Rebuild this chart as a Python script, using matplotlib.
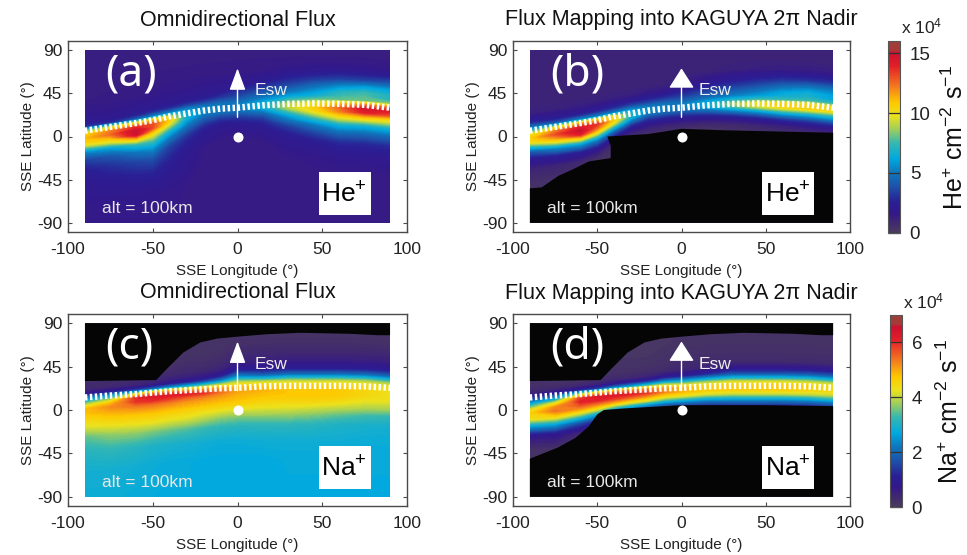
import numpy as np
import matplotlib
matplotlib.use("Agg")
import matplotlib.pyplot as plt
from matplotlib.colors import LinearSegmentedColormap, Normalize
from matplotlib.cm import ScalarMappable
from matplotlib.patches import Rectangle

plt.rcParams['font.family'] = ['Liberation Sans', 'DejaVu Sans']
plt.rcParams['mathtext.fontset'] = 'custom'
plt.rcParams['mathtext.rm'] = 'Liberation Sans'
plt.rcParams['mathtext.default'] = 'rm'
plt.rcParams['axes.unicode_minus'] = False

W, H = 967, 555

lon_knots = [-90, -75, -60, -50, -40, -30, -20, -10, 0, 15, 30, 45, 60, 75, 90]
# latitude offsets from the hatched line at which each flux profile is read
lat_offsets = [100, 60, 45, 35, 25, 18, 12, 8, 4, 0, -4, -8, -12, -16, -22, -30, -40, -55, -75, -125]

hatch_he = [6, 10, 14, 17, 21, 24, 27, 29, 30, 32.5, 34, 34.5, 34, 33, 30]
hatch_na = [13, 15, 16.5, 18, 19.5, 20.5, 21.5, 22.5, 23, 24.5, 25, 25, 25, 24.5, 23]

he_omni = [
    [1.3,1.3,1.3,1.3,1.5,1.6,1.8,2.2,3,8,10.5,11,10.5,9,5.5,3.5,2.5,2,1.6,1.4],
    [1.3,1.3,1.3,1.4,1.5,1.6,1.8,2,3,9,12,12.5,11,9.5,6,4,3,2.2,1.7,1.4],
    [1.3,1.3,1.3,1.4,1.5,1.7,2,2.5,4,10,13.5,15,15,11.5,7.5,5,3.5,2.5,1.7,1.4],
    [1.3,1.3,1.4,1.4,1.6,1.8,2.2,3,5,11,13,13,11,9.5,7.5,5.5,3.8,2.6,1.7,1.4],
    [1.3,1.3,1.4,1.5,1.6,1.8,2.2,3,5,9,10.5,9.5,8,6.5,5,3.5,2.8,2.2,1.6,1.4],
    [1.3,1.3,1.4,1.5,1.6,1.9,2.4,3.5,5.5,6.5,6.5,5.8,5,4.2,3.2,2.5,2,1.8,1.5,1.4],
    [1.3,1.3,1.4,1.5,1.7,2,2.5,3.5,5,5.5,5,4.2,3.5,2.8,2.2,1.8,1.5,1.4,1.4,1.4],
    [1.3,1.3,1.4,1.5,1.7,2,3,4,5,5.2,4.6,3.6,2.8,2.2,1.8,1.5,1.4,1.4,1.4,1.4],
    [1.3,1.3,1.4,1.5,1.8,2.8,3.5,4.2,5,5,4.4,3.5,2.8,2.2,1.7,1.4,1.4,1.4,1.4,1.4],
    [1.3,1.3,1.4,1.5,2.2,3.2,4.2,5,6,6.5,5.8,4.5,3.5,2.8,2.2,1.7,1.4,1.4,1.4,1.4],
    [1.3,1.3,1.4,1.7,2.8,3.8,5,6,7.5,9,9,7.5,6,5,3.5,2.5,1.8,1.5,1.4,1.4],
    [1.3,1.3,1.4,1.8,3.2,4.6,5.8,6.5,8,10,10.5,10,8.5,7,5,3.5,2.2,1.6,1.4,1.4],
    [1.3,1.3,1.4,1.9,3.5,5.5,7,7.5,8,11,12.5,12,10.5,9,6.5,4.5,2.8,1.8,1.4,1.4],
    [1.3,1.3,1.4,1.8,3.5,6,7.5,7.8,8,12,14.5,14,11.5,9.5,6.5,4.5,2.8,1.8,1.4,1.4],
    [1.3,1.3,1.4,1.8,4,6,7,7,8.5,12.5,14,13,10.5,9,6.5,4.5,2.8,1.8,1.4,1.4],
]
he_nadir = [
    [1.1,1.1,1.1,1.1,1.1,1.2,2,2.8,4.5,7,9.5,10.5,10,7.5,4,2,1,.4,.3,.3],
    [1.1,1.1,1.1,1.1,1.1,1.2,1.8,2.5,4,9,12,13,11.5,9.5,5.5,2.5,1,.4,.3,.3],
    [1.1,1.1,1.1,1.1,1.1,1.3,1.8,2.8,5,11,14,15,14,10.5,6,2.5,.8,.3,.3,.3],
    [1.1,1.1,1.1,1.1,1.1,1.3,2,3,5,11,13.5,12.5,10.5,8,4.5,1.8,.4,.3,.3,.3],
    [1.1,1.1,1.1,1.1,1.1,1.3,2.2,3,5,10,10.5,9,6.5,4.2,2,.6,.3,.3,.3,.3],
    [1.1,1.1,1.1,1.1,1.1,1.3,2.4,3.5,5.5,7,6.5,4.8,3,1.8,.8,.4,.3,.3,.3,.3],
    [1.1,1.1,1.1,1.1,1.1,1.5,2.5,3.5,5,5.5,4.6,3.2,2.2,1.4,.7,.4,.3,.3,.3,.3],
    [1.1,1.1,1.1,1.1,1.1,1.6,2.8,3.8,5,5.2,4.3,3,2,1.2,.6,.3,.3,.3,.3,.3],
    [1.1,1.1,1.1,1.1,1.4,2.2,3.2,4,5,5,4,2.8,1.8,1.1,.5,.3,.3,.3,.3,.3],
    [1.1,1.1,1.1,1.1,1.8,2.8,3.8,4.6,6,6.3,5,3.4,2,1.2,.5,.3,.3,.3,.3,.3],
    [1.1,1.1,1.1,1.2,2.2,3.3,4.4,5.2,7,8.5,7,4.6,2.8,1.6,.7,.3,.3,.3,.3,.3],
    [1.1,1.1,1.1,1.3,2.6,3.8,5,5.8,7.5,10,9,6,3.8,2.2,1,.4,.3,.3,.3,.3],
    [1.1,1.1,1.1,1.4,3,4.6,6,6.5,7.5,10.5,10,7.5,5,3,1.3,.5,.3,.3,.3,.3],
    [1.1,1.1,1.1,1.4,3,5,6.5,6.8,7.5,10.5,10.5,8,5.5,3.5,1.6,.6,.3,.3,.3,.3],
    [1.1,1.1,1.1,1.4,3.2,5,6,6,7.5,10,10,7.5,5.5,3.5,1.6,.6,.3,.3,.3,.3],
]
na_omni = [
    [.1,.1,.12,.15,.2,.25,.3,.35,.7,2,3,4,4.8,4.8,4.5,4.2,3.5,3.1,2.9,2.75],
    [.1,.1,.12,.15,.2,.25,.3,.4,.9,2.5,3.8,4.8,5.2,5,4.7,4.3,3.7,3.2,2.9,2.75],
    [.1,.1,.12,.15,.2,.25,.35,.5,1.5,4.2,6,5.9,5.4,5.1,4.7,4.3,3.7,3.1,2.85,2.7],
    [.1,.1,.12,.15,.2,.3,.4,.6,1.8,5,6.2,6,5.4,5.1,4.7,4.3,3.6,3,2.8,2.7],
    [.1,.1,.12,.15,.2,.3,.5,.8,2.3,5.1,6.2,5.8,5.3,5,4.6,4.2,3.5,2.95,2.75,2.7],
    [.1,.1,.12,.15,.25,.35,.6,1.1,2.8,5,6.1,5.5,5.1,4.9,4.5,4.1,3.4,2.9,2.75,2.7],
    [.1,.1,.12,.15,.25,.4,.7,1.5,3.3,5.1,5.9,5.3,5,4.8,4.4,3.9,3.25,2.85,2.7,2.7],
    [.1,.1,.12,.2,.3,.5,1.1,2.2,3.8,5.1,5.4,5.1,4.9,4.7,4.3,3.7,3.15,2.8,2.7,2.7],
    [.1,.1,.2,.35,.6,1.1,2.3,3.4,4.3,4.9,5,4.9,4.8,4.6,4.2,3.6,3.1,2.8,2.7,2.7],
    [.1,.1,.2,.35,.5,.9,1.8,3,4.2,4.7,4.9,4.8,4.7,4.5,4.2,3.7,3.15,2.85,2.7,2.7],
    [.1,.1,.2,.35,.6,1,2,3.2,4.2,4.6,4.75,4.75,4.65,4.5,4.2,3.7,3.15,2.85,2.75,2.7],
    [.1,.1,.2,.35,.6,1,2,3.2,4.2,4.6,4.75,4.75,4.65,4.5,4.1,3.6,3.1,2.85,2.75,2.7],
    [.1,.1,.2,.35,.6,1,2,3.2,4.2,4.55,4.7,4.7,4.6,4.4,4,3.45,3,2.85,2.75,2.7],
    [.1,.1,.2,.35,.6,1,2,3.2,4.1,4.4,4.5,4.5,4.4,4.2,3.9,3.3,2.95,2.8,2.75,2.7],
    [.1,.1,.2,.35,.6,1,1.9,3,3.9,4.2,4.3,4.3,4.3,4.1,3.8,3.2,2.9,2.8,2.75,2.7],
]
na_nadir = [
    [.1,.1,.1,.1,.1,.15,.2,.25,.4,1,2,3,3.9,4.6,4.4,2.6,.7,.15,.1,.1],
    [.1,.1,.1,.1,.1,.15,.2,.3,.6,1.6,2.8,4.2,5.2,5.4,4.5,2.6,.8,.15,.1,.1],
    [.1,.1,.1,.1,.1,.15,.2,.4,1.2,3.8,5.8,6.1,5.6,5,3.6,1.6,.4,.1,.1,.1],
    [.1,.1,.1,.1,.1,.15,.3,.5,1.4,4.5,6.2,6.1,5.3,4.5,2.8,1.1,.2,.1,.1,.1],
    [.1,.1,.1,.1,.15,.2,.35,.7,2,5,6.2,5.8,4.9,3.6,1.5,.5,.1,.1,.1,.1],
    [.1,.1,.1,.1,.15,.2,.4,1,2.6,5.2,6.1,5.4,4.4,3,1.2,.3,.1,.1,.1,.1],
    [.1,.1,.1,.1,.15,.25,.5,1.3,3.2,5.3,5.8,5,4,2.5,.9,.2,.1,.1,.1,.1],
    [.1,.1,.1,.15,.2,.3,.8,2,3.8,5.1,5.2,4.5,3.4,2.1,.7,.2,.1,.1,.1,.1],
    [.1,.1,.15,.2,.3,.4,1,2.3,3.8,4.9,4.9,4.3,3.1,1.9,.6,.2,.1,.1,.1,.1],
    [.1,.1,.15,.2,.3,.5,1.3,2.6,3.9,4.6,4.6,4.1,3,1.9,.7,.2,.1,.1,.1,.1],
    [.1,.1,.15,.2,.3,.8,1.8,3,4.2,4.7,4.6,4,3,2,.8,.2,.1,.1,.1,.1],
    [.1,.1,.15,.2,.3,.8,1.8,3,4.2,4.7,4.6,4,3,2,.8,.2,.1,.1,.1,.1],
    [.1,.1,.15,.2,.3,.8,1.8,3,4.2,4.7,4.6,4,3,2,.8,.2,.1,.1,.1,.1],
    [.1,.1,.15,.2,.3,.8,1.8,3,4.1,4.6,4.5,4,3,2,.8,.2,.1,.1,.1,.1],
    [.1,.1,.15,.2,.3,.8,1.8,2.9,4,4.4,4.4,3.9,3,2,.8,.2,.1,.1,.1,.1],
]

# outlines of the black no-coverage regions
mask_b_lon = [-90, -83, -73, -63, -55, -42, -42, -44, -20, 0, 25, 50, 75, 90]
mask_b_lat = [-54, -53, -41, -33, -26, -22.5, -10, 0, 2.5, 8, 6.5, 5.5, 4.5, 4]
mask_top_lon = [-90, -48, -42, -32, -22, -12, 0, 17, 37, 66, 83, 90]
mask_top_lat = [30, 31, 42, 59.5, 70, 74, 76, 78.5, 80, 79, 77.5, 77.5]
mask_d_lon = [-90, -73.5, -63, -55, -50, -46, -36, -20, 0, 50, 90]
mask_d_lat = [-50.5, -39, -29, -17, -4.5, 0, 1.4, 3, 5, 5, 4]

x_ticks = [-100, -50, 0, 50, 100]
y_ticks = [-90, -45, 0, 45, 90]
he_ticks = [0, 5, 10, 15]
na_ticks = [0, 2, 4, 6]
he_max = 16
na_max = 7

cmap = LinearSegmentedColormap.from_list('flux', [
    (0.00, '#4a3a60'), (0.05, '#40296f'), (0.10, '#33188a'), (0.16, '#2a1f95'),
    (0.245, '#1c55ab'), (0.315, '#0d78bd'), (0.385, '#00a8e0'), (0.47, '#38b8ae'),
    (0.54, '#9fcf5a'), (0.61, '#ece21c'), (0.68, '#fdc800'), (0.765, '#f47a20'),
    (0.87, '#e32028'), (0.94, '#cc1030'), (0.955, '#a83838'), (1.00, '#9c4038')], N=256)

fig = plt.figure(figsize=(W / 100, H / 100), dpi=100)
edge = '#4a4a4a'
txt = '#222222'


def axes_px(x0, y0, x1, y1):
    return fig.add_axes([x0 / W, 1 - y1 / H, (x1 - x0) / W, (y1 - y0) / H])


def panel(box, values, hatch, vmax, tag, ion, title, big_head, masks):
    ax = axes_px(*box)
    ax.set_xlim(-100, 100)
    ax.set_ylim(-99.5, 99.5)
    ax.set_facecolor('white')
    X = np.array(lon_knots, float)[:, None] * np.ones((1, len(lat_offsets)))
    Y = np.array(hatch, float)[:, None] + np.array(lat_offsets, float)[None, :]
    cs = ax.contourf(X, Y, np.array(values), levels=np.linspace(0, vmax, 129), cmap=cmap,
                     norm=Normalize(0, vmax), extend='both', antialiased=False, zorder=1)
    frame = Rectangle((-90, -90), 180, 180, transform=ax.transData)
    cs.set_clip_path(frame)
    for mx, my, far in masks:
        ax.fill(list(mx) + [90, -90], list(my) + [far, far], color='#050505', lw=0, zorder=2)
    ax.plot(lon_knots, hatch, color='white', lw=4.6, dashes=(0.38, 0.40),
            dash_capstyle='butt', zorder=3)
    ax.annotate('', xy=(0, 71), xytext=(0, 20), zorder=4,
                arrowprops=dict(arrowstyle='-|>,head_length=%g,head_width=%g' % (
                    (1.25, 0.8) if big_head else (1.35, 0.5)),
                    color='white', lw=1.0, shrinkA=0, shrinkB=0, mutation_scale=10))
    ax.scatter([0], [0], s=52, color='white', lw=0, zorder=5)
    ax.text(10, 47.5, 'Esw', color='#eeeeee', fontsize=12.5, va='center', zorder=5)
    ax.text(-80, -75, 'alt = 100km', color='#e8e8e8', fontsize=12.5, va='center', zorder=5)
    ax.text(-78, 65, tag, color='white', fontsize=32, family='Noto Sans', va='center', zorder=5)
    ax.add_patch(Rectangle((48, -82), 30.5, 45, fc='white', ec='none', zorder=5))
    ax.text(63, -61, ion + '$^{+}$', color='black', fontsize=19, ha='center', va='center', zorder=6)
    ax.set_xticks(x_ticks)
    ax.set_yticks(y_ticks)
    ax.tick_params(direction='in', length=3, width=0.8, top=True, right=True, color=edge,
                   labelsize=12.5, labelcolor=txt, pad=4)
    ax.tick_params(axis='x', pad=7)
    for s in ax.spines.values():
        s.set_color(edge)
        s.set_linewidth(1.0)
    ax.set_xlabel('SSE Longitude (°)', fontsize=11, color=txt, labelpad=5)
    ax.set_ylabel('SSE Latitude (°)', fontsize=11, color=txt, labelpad=2)
    cx = (box[0] + box[2]) / 2
    fig.text(cx / W, 1 - (box[1] - 21) / H, title, fontsize=15.5, color='#111111',
             ha='center', va='center')
    return ax


t1 = 'Omnidirectional Flux'
t2 = 'Flux Mapping into KAGUYA 2π Nadir'
panel((68, 41, 407, 232), he_omni, hatch_he, he_max, '(a)', 'He', t1, False, [])
panel((513, 41, 850, 232), he_nadir, hatch_he, he_max, '(b)', 'He', t2, True,
      [(mask_b_lon, mask_b_lat, -90)])
panel((68, 314, 407, 506), na_omni, hatch_na, na_max, '(c)', 'Na', t1, False,
      [(mask_top_lon, mask_top_lat, 90)])
panel((513, 314, 850, 506), na_nadir, hatch_na, na_max, '(d)', 'Na', t2, True,
      [(mask_top_lon, mask_top_lat, 90), (mask_d_lon, mask_d_lat, -90)])


def colorbar(box, vmax, ticks, label, label_x, top_y):
    cax = axes_px(*box)
    cb = fig.colorbar(ScalarMappable(Normalize(0, vmax), cmap), cax=cax)
    cb.set_ticks(ticks)
    cb.ax.tick_params(direction='in', length=8.6, width=0.9, color='#333333',
                      labelsize=13.5, labelcolor=txt, pad=7)
    cb.outline.set_edgecolor('#555555')
    cb.outline.set_linewidth(0.8)
    cc = (box[1] + box[3]) / 2
    fig.text(label_x / W, 1 - cc / H, label, rotation=90, fontsize=18, color='#111111',
             ha='center', va='center')
    fig.text((box[0] + 13) / W, 1 - top_y / H, 'x 10$^{4}$', fontsize=12.5, color=txt,
             ha='left', va='center')


colorbar((888, 41, 900, 233), he_max, he_ticks, 'He$^{+}$ cm$^{-2}$ s$^{-1}$', 955, 26)
colorbar((890, 315, 902, 507), na_max, na_ticks, 'Na$^{+}$ cm$^{-2}$ s$^{-1}$', 950, 301)

fig.savefig('out.png', dpi=100)
